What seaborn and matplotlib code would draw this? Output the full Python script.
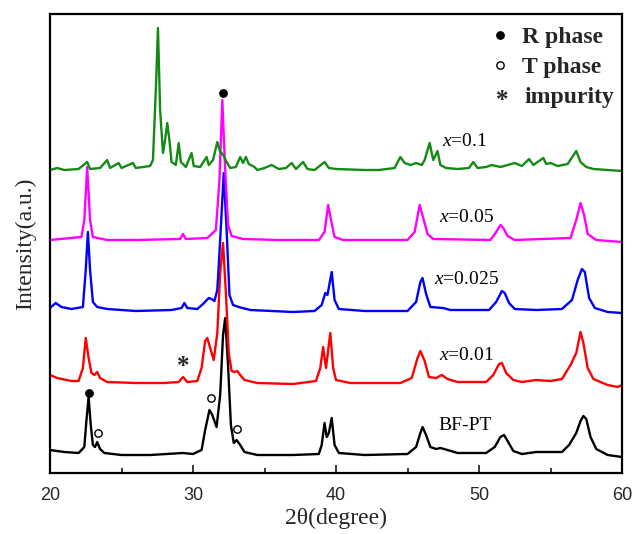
import matplotlib
matplotlib.use("Agg")
import matplotlib.pyplot as plt
import seaborn as sns
import pandas as pd

# ---------------- data ----------------
samples = ["BF-PT", "x=0.01", "x=0.025", "x=0.05", "x=0.1"]
sample_labels = ["BF-PT", r"$x$=0.01", r"$x$=0.025", r"$x$=0.05", r"$x$=0.1"]
colors = ["#000000", "#ff0000", "#0000ff", "#ff00ff", "#138a13"]
offsets = [18, 90, 163, 233, 303]

bf_x = [20.0, 21.0, 22.0, 22.4, 22.55, 22.7, 22.85, 23.0, 23.15, 23.3, 23.5, 23.8, 25.0, 27.0, 29.3, 30.0,
        30.6, 30.85, 31.15, 31.35, 31.65, 31.9, 32.1, 32.25, 32.45, 32.65, 32.85, 33.05, 33.3, 33.6, 34.5,
        37.0, 38.8, 39.0, 39.2, 39.35, 39.5, 39.7, 39.9, 40.2, 42.0, 45.0, 45.6, 45.9, 46.05, 46.3, 46.6,
        47.0, 47.3, 47.8, 48.5, 50.5, 51.1, 51.5, 51.75, 52.0, 52.4, 53.0, 54.0, 55.0, 55.8, 56.3, 56.8,
        57.1, 57.3, 57.5, 57.8, 58.2, 59.0, 60.0]
bf_y = [5, 3, 2, 8, 35, 58, 30, 10, 8, 13, 6, 2, 0, 0, 2, 1,
        5, 25, 45, 40, 28, 60, 120, 137, 90, 30, 12, 15, 10, 3, 0,
        0, 1, 10, 32, 18, 22, 37, 10, 2, 0, 1, 8, 22, 28, 20, 8,
        6, 7, 5, 2, 2, 8, 18, 20, 14, 4, 1, 3, 3, 3, 10, 22,
        34, 39, 36, 18, 6, 0, -2]

r_x = [20.0, 20.5, 21.5, 22.0, 22.3, 22.5, 22.7, 22.9, 23.1, 23.3, 23.5, 24.0, 26.0, 28.0, 29.0, 29.3,
       29.6, 30.3, 30.6, 30.85, 31.0, 31.2, 31.45, 31.7, 31.9, 32.1, 32.3, 32.5, 32.7, 32.9, 33.1, 33.3,
       33.6, 34.5, 37.0, 38.6, 38.9, 39.1, 39.3, 39.6, 39.8, 40.0, 41.0, 44.5, 45.3, 45.7, 45.9, 46.2,
       46.5, 47.0, 47.4, 47.8, 48.5, 50.5, 51.0, 51.4, 51.6, 51.9, 52.4, 53.0, 54.0, 55.0, 55.8, 56.4,
       56.8, 57.1, 57.3, 57.6, 58.0, 59.0, 59.7, 60.0]
r_y = [8, 5, 2, 2, 15, 45, 25, 10, 8, 11, 5, 1, 0, 0, 1, 6,
       1, 2, 15, 42, 45, 35, 23, 50, 110, 140, 90, 30, 12, 11, 12, 8,
       3, 0, -1, 2, 15, 36, 15, 50, 15, 3, 0, 0, 5, 25, 32, 22,
       6, 5, 8, 4, 1, 1, 8, 19, 20, 10, 3, 1, 3, 2, 4, 18,
       30, 51, 40, 15, 4, -2, -4, -2]

b_x = [20.0, 20.4, 20.8, 21.5, 22.3, 22.5, 22.65, 22.8, 23.0, 23.3, 24.0, 26.0, 28.5, 29.2, 29.4, 29.6,
       30.3, 30.7, 31.1, 31.3, 31.5, 31.7, 31.9, 32.15, 32.35, 32.55, 32.8, 33.2, 34.0, 37.0, 38.5, 39.0,
       39.25, 39.4, 39.7, 39.9, 40.2, 42.0, 45.0, 45.6, 45.9, 46.05, 46.3, 46.6, 47.5, 48.0, 50.7, 51.2,
       51.6, 51.8, 52.1, 52.5, 54.0, 55.8, 56.5, 56.9, 57.2, 57.4, 57.7, 58.1, 59.0, 60.0]
b_y = [2, 7, 3, 1, 3, 40, 78, 40, 8, 3, 1, -1, 0, 2, 7, 2,
       1, 6, 12, 11, 9, 20, 70, 137, 80, 15, 5, 3, 0, -2, -1, 5,
       17, 15, 38, 10, 1, -1, -1, 8, 28, 32, 16, 3, 2, 0, 0, 8,
       19, 17, 7, 1, 0, 1, 10, 30, 41, 38, 12, 2, -2, -3]

m_x = [20.0, 22.2, 22.4, 22.6, 22.8, 23.0, 24.0, 26.0, 29.1, 29.3, 29.5, 31.0, 31.6, 31.85, 32.05, 32.25,
       32.45, 32.7, 33.5, 36.0, 38.8, 39.2, 39.45, 39.65, 39.9, 40.5, 45.0, 45.5, 45.85, 46.1, 46.4, 46.8,
       50.8, 51.2, 51.5, 51.7, 52.0, 52.5, 56.4, 56.8, 57.1, 57.35, 57.6, 58.2, 60.0]
m_y = [0, 3, 20, 73, 20, 3, 0, 0, 1, 6, 1, 2, 10, 60, 140, 70,
       15, 4, 1, 0, 0, 8, 35, 20, 3, 0, 0, 8, 35, 22, 6, 1,
       0, 8, 15, 12, 4, 0, 2, 20, 37, 25, 6, 0, -2]

g_x = [20.0, 20.5, 21.0, 22.0, 22.6, 22.8, 23.5, 24.0, 24.2, 24.8, 25.0, 25.8, 26.0, 26.5, 27.0, 27.2,
       27.4, 27.55, 27.7, 27.9, 28.05, 28.2, 28.35, 28.5, 28.8, 29.0, 29.15, 29.5, 29.9, 30.05, 30.5, 30.95,
       31.1, 31.4, 31.7, 31.9, 32.0, 32.15, 32.35, 32.6, 33.0, 33.3, 33.5, 33.7, 33.9, 34.3, 34.5, 35.0,
       35.5, 36.0, 36.5, 36.9, 37.2, 37.7, 38.0, 38.5, 39.2, 39.5, 40.0, 42.0, 43.0, 44.1, 44.5, 44.8,
       45.2, 45.6, 46.0, 46.2, 46.55, 46.8, 47.1, 47.3, 47.7, 48.5, 49.3, 49.6, 49.9, 50.5, 50.9, 51.5,
       52.0, 52.5, 53.0, 53.5, 53.8, 54.5, 54.7, 55.0, 55.5, 56.2, 56.8, 57.1, 57.5, 58.0, 59.0, 60.0]
g_y = [0, 2, 0, 1, 8, 1, 2, 10, 2, 7, 2, 7, 2, 3, 4, 10,
       80, 142, 60, 17, 30, 47, 30, 8, 5, 27, 8, 3, 17, 4, 3, 13,
       5, 10, 28, 18, 17, 14, 8, 2, 3, 13, 7, 13, 6, 3, 0, 2,
       5, 1, 2, 7, 1, 8, 1, 0, 8, 2, 1, 0, 0, 2, 13, 7,
       5, 7, 5, 10, 27, 10, 19, 5, 2, 1, 2, 8, 2, 3, 5, 3,
       5, 7, 4, 11, 5, 12, 6, 7, 4, 6, 19, 8, 3, 1, 0, -1]

xs = [bf_x, r_x, b_x, m_x, g_x]
ys = [bf_y, r_y, b_y, m_y, g_y]

label_x = [49.0, 49.15, 49.1, 49.15, 49.0]
label_y = [48, 118, 193, 256, 331]

# phase markers (2theta, plotted height)
r_phase_x = [22.72, 32.1]
r_phase_y = [80, 380]
t_phase_x = [23.36, 31.27, 33.08]
t_phase_y = [40, 75, 44]
imp_x = [29.3]
imp_y = [106]

x_ticks = [20, 30, 40, 50, 60]
x_minor = [25, 35, 45, 55]

# ---------------- build table ----------------
rows = []
for s, xv, yv, off in zip(samples, xs, ys, offsets):
    for a, b in zip(xv, yv):
        rows.append({"sample": s, "two_theta": a, "intensity": b + off})
df = pd.DataFrame(rows)

# ---------------- plot ----------------
sns.set_style("ticks")
plt.rcParams["font.family"] = ["Liberation Serif", "DejaVu Serif"]
plt.rcParams["mathtext.fontset"] = "custom"
plt.rcParams["mathtext.rm"] = "Liberation Serif"
plt.rcParams["mathtext.it"] = "Liberation Serif:italic"

fig = plt.figure(figsize=(6.33, 5.34), dpi=100)
ax = fig.add_axes([50 / 633, 1 - 473 / 534, (622 - 50) / 633, (473 - 14) / 534])

for s, c in zip(samples, colors):
    sub = df[df["sample"] == s]
    sns.lineplot(data=sub, x="two_theta", y="intensity", color=c, lw=1.7,
                 ax=ax, sort=False, estimator=None, legend=False)

ax.set_xlim(20, 60)
ax.set_ylim(0, 459)
ax.set_yticks([])
ax.set_xticks(x_ticks)
ax.set_xticks(x_minor, minor=True)
ax.tick_params(axis="x", which="major", direction="in", length=6, width=1.3, pad=10,
               labelsize=13, top=False)
ax.tick_params(axis="x", which="minor", direction="in", length=3.5, width=1.3, top=False)
for lab in ax.get_xticklabels():
    lab.set_fontfamily(["Liberation Sans", "DejaVu Sans"])
for sp in ax.spines.values():
    sp.set_visible(True)
    sp.set_linewidth(1.6)
    sp.set_color("black")

ax.set_xlabel("2θ(degree)", fontsize=17, labelpad=3)
ax.set_ylabel("Intensity(a.u.)", fontsize=17, labelpad=10)

# sample labels
for lab, lx, ly in zip(sample_labels, label_x, label_y):
    ax.text(lx, ly, lab, fontsize=14, ha="center", va="center", color="black")

# phase markers
ax.plot(r_phase_x, r_phase_y, ls="none", marker="o", ms=5.3, color="black")
ax.plot(t_phase_x, t_phase_y, ls="none", marker="o", ms=5.3, mfc="white", mec="black", mew=1.0)
ax.text(imp_x[0], imp_y[0], "*", fontsize=18, fontweight="bold", ha="center", va="center")

# key
ax.plot([51.47], [438], ls="none", marker="o", ms=5.3, color="black")
ax.plot([51.47], [408], ls="none", marker="o", ms=5.3, mfc="white", mec="black", mew=1.0)
ax.text(51.6, 372, "*", fontsize=18, fontweight="bold", ha="center", va="center")
ax.text(53.0, 430, "R phase", fontsize=17, fontweight="bold", ha="left", va="baseline")
ax.text(53.0, 400, "T phase", fontsize=17, fontweight="bold", ha="left", va="baseline")
ax.text(53.15, 370, "impurity", fontsize=17, fontweight="bold", ha="left", va="baseline")

fig.savefig("out.png", dpi=100)
